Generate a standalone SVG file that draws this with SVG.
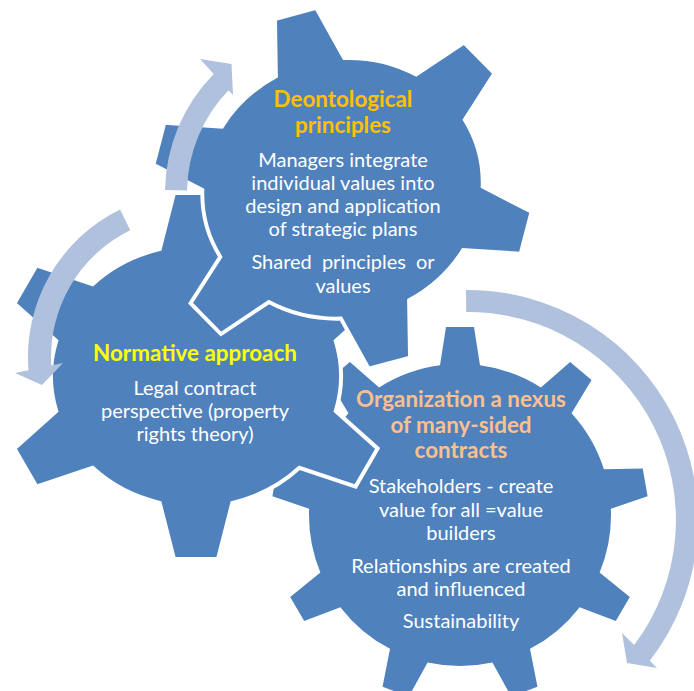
<svg xmlns="http://www.w3.org/2000/svg" xmlns:xlink="http://www.w3.org/1999/xlink" width="694" height="691" viewBox="0 0 694 691">
<style>
.gear{fill:#4F81BD}
.outl{stroke:#FFFFFF;stroke-width:4;stroke-linejoin:miter}
.arrow{fill:#B0C1DE}
text{font-family:Lato,"Open Sans","Liberation Sans",sans-serif;text-anchor:middle}
.h{font-weight:bold;font-size:22.4px}
.b{font-size:20px;fill:#FFFFFF}
.h1{fill:#FFC000}
.h2{fill:#FFFF00}
.h3{fill:#FAC090}
</style>
<defs>
<path id="g6" d="M -36.31,-126.83 L -22,-183 L 22,-183 L 36.31,-126.83 A 145 131 0 0 1 103.42,-91.82 L 159.6,-110.55 L 181.6,-72.45 L 139.73,-35.01 A 145 131 0 0 1 139.73,35.01 L 181.6,72.45 L 159.6,110.55 L 103.42,91.82 A 145 131 0 0 1 36.31,126.83 L 22,183 L -22,183 L -36.31,126.83 A 145 131 0 0 1 -103.42,91.82 L -159.6,110.55 L -181.6,72.45 L -139.73,35.01 A 145 131 0 0 1 -139.73,-35.01 L -181.6,-72.45 L -159.6,-110.55 L -103.42,-91.82 A 145 131 0 0 1 -36.31,-126.83 Z"/>
</defs>
<g id="gear-organization">
<path class="gear" transform="translate(460,515)" d="M -20,-149.67 L -14,-188 L 14,-188 L 20,-149.67 A 151 151 0 0 1 80.9,-127.5 L 110.12,-153.02 L 131.56,-135.02 L 111.51,-101.81 A 151 151 0 0 1 143.92,-45.68 L 182.71,-46.44 L 187.57,-18.86 L 150.87,-6.3 A 151 151 0 0 1 139.62,57.51 L 169.81,81.88 L 155.81,106.12 L 119.64,92.13 A 151 151 0 0 1 69.98,133.8 L 77.46,171.87 L 51.14,181.45 L 32.4,147.48 A 151 151 0 0 1 -32.4,147.48 L -51.14,181.45 L -77.46,171.87 L -69.98,133.8 A 151 151 0 0 1 -119.64,92.13 L -155.81,106.12 L -169.81,81.88 L -139.62,57.51 A 151 151 0 0 1 -150.87,-6.3 L -187.57,-18.86 L -182.71,-46.44 L -143.92,-45.68 A 151 151 0 0 1 -111.51,-101.81 L -131.56,-135.02 L -110.12,-153.02 L -80.9,-127.5 A 151 151 0 0 1 -20,-149.67 Z"/>
<text class="h h3" x="461" y="407">Organization a nexus</text>
<text class="h h3" x="461" y="433">of many-sided</text>
<text class="h h3" x="461" y="458">contracts</text>
<text class="b" x="461" y="493">Stakeholders - create</text>
<text class="b" x="461" y="517">value for all =value</text>
<text class="b" x="461" y="540">builders</text>
<text class="b" x="461" y="573">Relationships are created</text>
<text class="b" x="461" y="596">and influenced</text>
<text class="b" x="461" y="628">Sustainability</text>
</g>
<g id="gear-normative">
<use xlink:href="#g6" href="#g6" class="gear outl" transform="translate(196,376)"/>
<text class="h h2" x="195" y="361">Normative approach</text>
<text class="b" x="195" y="395">Legal contract</text>
<text class="b" x="195" y="418">perspective (property</text>
<text class="b" x="195" y="441">rights theory)</text>
</g>
<g id="gear-deontological">
<use xlink:href="#g6" href="#g6" class="gear outl" transform="translate(342.5,188.3) rotate(-15) scale(0.972,0.989)"/>
<text class="h h1" x="343" y="107">Deontological</text>
<text class="h h1" x="343" y="133">principles</text>
<text class="b" x="343" y="167">Managers integrate</text>
<text class="b" x="343" y="190">individual values into</text>
<text class="b" x="343" y="213">design and application</text>
<text class="b" x="343" y="236">of strategic plans</text>
<text class="b" x="343" y="269" word-spacing="5">Shared principles or</text>
<text class="b" x="343" y="293">values</text>
</g>
<g id="connectors">
<path id="arrow-1" class="arrow" d="M 165.03,190.03 A 170 170 0 0 1 213.7,73.9 L 200,59 L 231.5,64 L 233,95 L 228.6,90.2 A 148 148 0 0 0 187.02,190.42 Z"/>
<path id="arrow-2" class="arrow" d="M 120.1,209.6 A 164 164 0 0 0 28.5,370.2 L 15,373 L 42,385 L 63,363 L 51.3,365.4 A 141 141 0 0 1 130.2,230.3 Z"/>
<path id="arrow-3" class="arrow" d="M 466,290 A 230 230 0 0 1 649.8,660.8 L 657,668 L 627,663 L 622,633 L 634.1,645.1 A 208 208 0 0 0 466.2,312 Z"/>
</g>
</svg>
